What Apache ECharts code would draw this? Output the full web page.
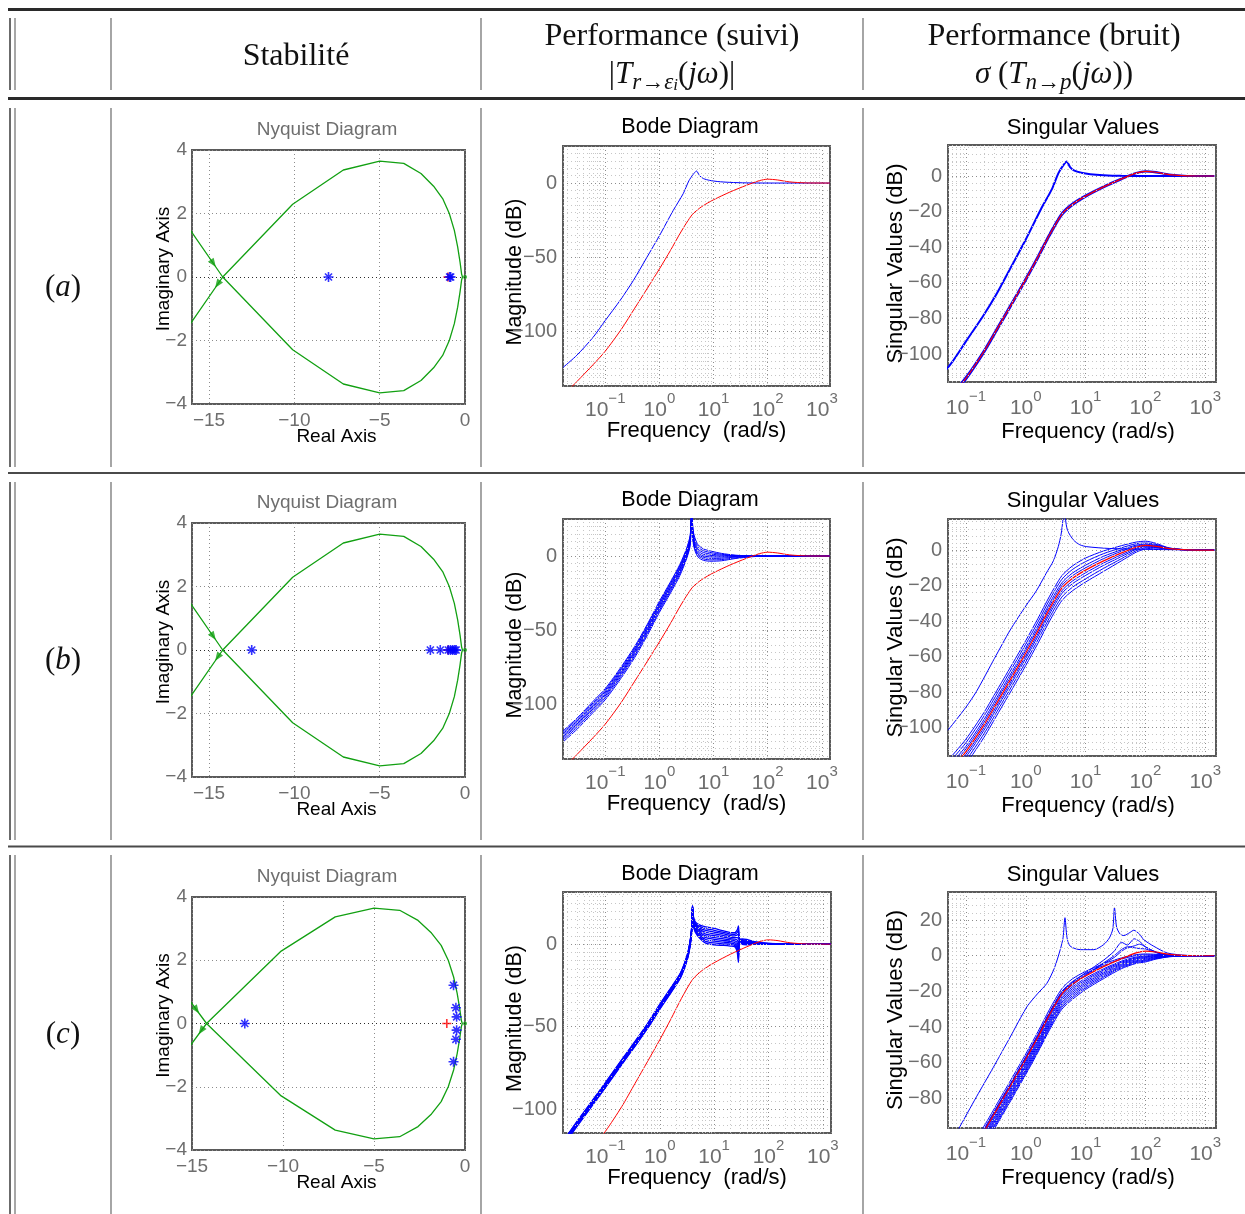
<!DOCTYPE html>
<html>
<head>
<meta charset="utf-8">
<script src="https://cdn.jsdelivr.net/npm/echarts@6/dist/echarts.min.js"></script>
<style>
html,body{margin:0;padding:0;background:#ffffff;}
#chart{width:1245px;height:1214px;}
</style>
</head>
<body>
<div id="chart"></div>
<script>
// ======================= DATA =======================
const ROW_LABELS = ['a', 'b', 'c'];
const HEAD_1 = 'Stabilité';
const HEAD_2 = 'Performance (suivi)';
const HEAD_3 = 'Performance (bruit)';
const TITLE_NYQ = 'Nyquist Diagram';
const TITLE_BODE = 'Bode Diagram';
const TITLE_SV = 'Singular Values';
const NAME_NYQ_X = 'Real Axis';
const NAME_NYQ_Y = 'Imaginary Axis';
const NAME_BODE_X = 'Frequency  (rad/s)';
const NAME_BODE_Y = 'Magnitude (dB)';
const NAME_SV_X = 'Frequency (rad/s)';
const NAME_SV_Y = 'Singular Values (dB)';

// axis ranges
const NYQ_XR = [[-16, 0], [-16, 0], [-15, 0]];
const NYQ_YR = [-4, 4];
const BODE_XR = [0.0166, 1413];
const BODE_YR = [[-137, 25], [-137, 25], [-114.5, 31.6]];
const SV_XR = [0.0501, 1514];
const SV_YR = [[-115.6, 17.4], [-116, 17.5], [-96.5, 35.7]];

// Nyquist loop (real / imaginary parts)
const NYQ_RE = [-18, -14.2, -10.1, -7.13, -5, -3.59, -2.58, -1.84, -1.31, -0.92, -0.625, -0.43, -0.29, -0.2, -0.15, -0.2, -0.29, -0.43, -0.625, -0.92, -1.31, -1.84, -2.58, -3.59, -5, -7.13, -10.1, -14.2, -18];
const NYQ_IM = [2.96, 0, -2.29, -3.37, -3.65, -3.58, -3.26, -2.86, -2.47, -2.0, -1.47, -0.95, -0.47, -0.1, 0, 0.1, 0.47, 0.95, 1.47, 2.0, 2.47, 2.86, 3.26, 3.58, 3.65, 3.37, 2.29, 0, -2.96];
const NYQ_ARROWS = [[-14.75, 0.43], [-14.5, -0.23]];
const NYQ_END = [[0, 0]];
const CRIT_PT = [[-1, 0]];
const EIG_A = [[-8, 0], [-0.9, 0], [-0.84, 0]];
const EIG_B = [[-12.5, 0], [-2.03, 0], [-1.45, 0], [-0.98, 0], [-0.85, 0], [-0.72, 0], [-0.6, 0], [-0.52, 0]];
const EIG_C = [[-12.1, 0], [-0.63, 1.21], [-0.5, 0.5], [-0.46, 0.21], [-0.46, -0.21], [-0.5, -0.5], [-0.63, -1.21]];

// Nominal (red) curve, dB
const RED_W = [0.0166, 0.03, 0.06, 0.1, 0.2, 0.35, 0.6, 1, 1.6, 2.5, 4, 6, 10, 20, 40, 70, 100, 150, 250, 500, 1413];
const RED_DB = [-143.5, -134, -122.5, -113.5, -98.5, -84.5, -71, -58, -45.5, -33, -21.5, -16, -11.3, -6.1, -1.6, 1.6, 2.6, 2.1, 0.8, 0.1, 0];

// Row (a) blue curve
const BA_W = [0.0166, 0.03, 0.06, 0.1, 0.19, 0.33, 0.58, 1, 1.8, 2.75, 3.5, 4.2, 4.85, 5.5, 6.5, 8.5, 12, 20, 40, 100, 1413];
const BA_DB = [-124.5, -116.2, -104, -92.8, -79, -65.8, -50.5, -35.6, -18.5, -7.2, 1.5, 5.8, 8.1, 5.0, 3.0, 1.8, 1.0, 0.45, 0.1, 0, 0];
// Row (a) singular values, blue curves hugging the nominal
const SVA_L1 = [-142.7, -133.2, -121.7, -112.7, -97.7, -83.7, -70.2, -57.2, -44.7, -32.2, -20.8, -15.4, -10.8, -5.7, -1.3, 1.8, 2.8, 2.3, 0.9, 0.1, 0];
const SVA_L2 = [-144.3, -134.8, -123.3, -114.3, -99.3, -85.3, -71.8, -58.8, -46.3, -33.8, -22.2, -16.6, -11.8, -6.5, -1.9, 1.4, 2.4, 1.9, 0.7, 0.1, 0];

// Row (b) Bode blue bundle
const BB_W = [0.0166, 0.03, 0.06, 0.1, 0.2, 0.35, 0.6, 1, 1.6, 2.4, 3.2, 3.7, 3.95, 4.2, 4.6, 5.2, 6.5, 9, 14, 25, 50, 100, 1413];
const BB_1 = [-118, -109.5, -98, -89.5, -74.5, -61, -46, -30.5, -17.5, -5.5, 5.5, 14, 30, 17, 11.5, 7.5, 4.8, 3.3, 1.8, 0.6, 0.1, 0, 0];
const BB_2 = [-119, -110.5, -99, -90.5, -75.5, -62, -47, -31.5, -18.5, -6.5, 4.5, 13, 30, 15.5, 10, 6, 3.6, 2.3, 1.2, 0.4, 0.1, 0, 0];
const BB_3 = [-120, -111.5, -100, -91.5, -76.5, -63, -48, -32.5, -19.5, -7.5, 3.5, 12, 30, 14, 8.5, 4.6, 2.4, 1.3, 0.6, 0.2, 0, 0, 0];
const BB_4 = [-121, -112.5, -101, -92.5, -77.5, -64, -49, -33.5, -20.5, -8.5, 2.5, 11, 30, 13, 7.2, 3.4, 1.2, 0.4, 0, 0, 0, 0, 0];
const BB_5 = [-122, -113.5, -102, -93.5, -78.5, -65, -50, -34.5, -21.5, -9.5, 1.5, 10, 30, 12, 6, 2.2, 0.1, -0.6, -0.7, -0.3, 0, 0, 0];
const BB_6 = [-123, -114.5, -103, -94.5, -79.5, -66, -51, -35.5, -22.5, -10.5, 0.5, 9, 30, 11, 5, 1.2, -0.9, -1.6, -1.5, -0.7, -0.2, 0, 0];
const BB_7 = [-124.2, -115.7, -104.2, -95.7, -80.7, -67.2, -52.2, -36.7, -23.7, -11.7, -0.5, 8, 30, 10, 4, 0.2, -1.9, -2.6, -2.4, -1.2, -0.3, 0, 0];
const BB_8 = [-125.5, -117, -105.5, -97, -82, -68.5, -53.5, -38, -25, -13, -1.5, 7, 30, 9, 3, -0.8, -2.9, -3.5, -3.2, -1.7, -0.5, 0, 0];

// Row (c) Bode blue bundle
const BC_W = [0.0166, 0.03, 0.06, 0.1, 0.2, 0.35, 0.6, 1, 1.6, 2.4, 3.2, 3.6, 3.85, 4.0, 4.15, 4.5, 5.5, 7, 10, 15, 20, 24, 26.5, 28, 29.5, 33, 40, 60, 100, 200, 1413];
const BC_1 = [-119.5, -107.5, -94, -84, -70, -59, -48, -36.5, -26.5, -17.5, -6.5, 1.5, 9.5, 23.3, 17, 13.5, 11.5, 10.5, 9.5, 8, 7, 7, 8.5, 11, 3, 3.2, 2.8, 1.3, 0.5, 0.1, 0];
const BC_2 = [-119.8, -107.8, -94.3, -84.3, -70.3, -59.3, -48.3, -36.8, -26.8, -17.8, -6.8, 1.2, 9.2, 23.2, 16.4, 12.8, 10.6, 9.4, 8.4, 7.1, 6.1, 6, 7, 8.5, 2.6, 2.7, 2.3, 1.1, 0.4, 0.1, 0];
const BC_3 = [-120.2, -108.2, -94.7, -84.7, -70.7, -59.7, -48.7, -37.2, -27.2, -18.2, -7.2, 0.8, 8.8, 23.1, 15.8, 12.1, 9.7, 8.3, 7.3, 6.2, 5.2, 5, 5.5, 6, 2.3, 2.2, 1.8, 0.9, 0.3, 0, 0];
const BC_4 = [-120.5, -108.5, -95, -85, -71, -60, -49, -37.5, -27.5, -18.5, -7.5, 0.5, 8.5, 23, 15.2, 11.4, 8.8, 7.2, 6.2, 5.2, 4.3, 4, 4, 3.5, 2.1, 1.8, 1.4, 0.7, 0.2, 0, 0];
const BC_5 = [-120.8, -108.8, -95.3, -85.3, -71.3, -60.3, -49.3, -37.8, -27.8, -18.8, -7.8, 0.2, 8.2, 22.9, 14.6, 10.7, 7.9, 6.1, 5.1, 4.2, 3.4, 3, 2.5, 1, 2.2, 1.5, 1.1, 0.5, 0.2, 0, 0];
const BC_6 = [-121.2, -109.2, -95.7, -85.7, -71.7, -60.7, -49.7, -38.2, -28.2, -19.2, -8.2, -0.2, 7.8, 22.8, 14, 10, 7, 5, 4, 3.2, 2.5, 2, 1, -1.5, 2.5, 1.2, 0.8, 0.4, 0.1, 0, 0];
const BC_7 = [-121.5, -109.5, -96, -86, -72, -61, -50, -38.5, -28.5, -19.5, -8.5, -0.5, 7.5, 22.7, 13.4, 9.3, 6.1, 3.9, 2.9, 2.2, 1.6, 1, -0.5, -4.5, 3, 0.9, 0.5, 0.3, 0.1, 0, 0];
const BC_8 = [-121.8, -109.8, -96.3, -86.3, -72.3, -61.3, -50.3, -38.8, -28.8, -19.8, -8.8, -0.8, 7.2, 22.6, 12.8, 8.6, 5.2, 2.8, 1.8, 1.2, 0.7, 0, -2, -7, 3.2, 0.6, 0.2, 0.2, 0, 0, 0];
const BC_9 = [-122.2, -110.2, -96.7, -86.7, -72.7, -61.7, -50.7, -39.2, -29.2, -20.2, -9.2, -1.2, 6.8, 22.5, 12.2, 7.9, 4.3, 1.7, 0.7, 0.2, -0.2, -0.8, -3.5, -9, 3, 0.2, -0.1, 0.1, 0, 0, 0];
const BC_10 = [-122.5, -110.5, -97, -87, -73, -62, -51, -39.5, -29.5, -20.5, -9.5, -1.5, 6.5, 22.4, 11.6, 7.2, 3.4, 0.6, -0.4, -0.8, -1.2, -1.6, -4.5, -11, 2.5, -0.2, -0.4, 0, 0, 0, 0];

// Row (b) singular values
const SVB_UP_W = [0.05, 0.1, 0.15, 0.3, 0.55, 1, 1.5, 2.2, 2.9, 3.5, 3.9, 4.2, 4.4, 4.6, 5, 6.3, 8, 10.5, 25, 100, 1413];
const SVB_UP = [-101.5, -88.5, -79.6, -61, -45, -31.5, -23, -13, -6, 2, 9, 18, 30, 18, 11, 5.6, 3, 1.9, 0.9, 0.4, 0];
const SVB_W = [0.05, 0.1, 0.2, 0.35, 0.6, 1, 1.6, 2.5, 4, 6, 10, 20, 40, 70, 100, 150, 250, 500, 1413];
const SVB_1 = [-118.5, -106.5, -91.5, -77.5, -64, -51, -38.5, -26, -14.5, -9, -4.5, -0.5, 2.5, 4.5, 5, 3.8, 1.2, 0.2, 0];
const SVB_2 = [-120.5, -108.5, -93.5, -79.5, -66, -53, -40.5, -28, -16.5, -11, -6.5, -2, 1.3, 3.6, 4, 3.2, 1.1, 0.2, 0];
const SVB_3 = [-122.5, -110.5, -95.5, -81.5, -68, -55, -42.5, -30, -18.5, -13, -8.5, -3.5, 0.2, 2.8, 3.3, 2.7, 1, 0.1, 0];
const SVB_4 = [-124, -112, -97, -83, -69.5, -56.5, -44, -31.5, -20, -14.5, -10, -4.8, -0.6, 2.2, 2.8, 2.4, 0.9, 0.1, 0];
const SVB_5 = [-127, -115, -100, -86, -72.5, -59.5, -47, -34.5, -23, -17.5, -12.8, -7.3, -2.6, 1, 2.2, 1.9, 0.8, 0.1, 0];
const SVB_6 = [-128.5, -116.5, -101.5, -87.5, -74, -61, -48.5, -36, -24.5, -19, -14.3, -8.6, -3.6, 0.4, 1.8, 1.7, 0.7, 0.1, 0];
const SVB_7 = [-130.5, -118.5, -103.5, -89.5, -76, -63, -50.5, -38, -26.5, -21, -16.2, -10.3, -4.8, -0.4, 1.2, 1.4, 0.6, 0.1, 0];
const SVB_8 = [-132.5, -120.5, -105.5, -91.5, -78, -65, -52.5, -40, -28.5, -23, -18, -12, -6, -1.2, 0.6, 1.1, 0.5, 0.1, 0];

// Row (c) singular values
const SVC_UP_W = [0.05, 0.074, 0.15, 0.286, 0.55, 1.04, 1.6, 2.25, 3, 3.77, 4.2, 4.52, 4.9, 5.55, 8.2, 13.7, 20, 25, 28.5, 30.4, 33, 38, 43.6, 55, 64, 80, 93.7, 138, 234, 500, 1413];
const SVC_UP = [-108, -97.5, -79, -62.6, -45.5, -28.7, -21, -15.5, -7, 3.4, 10, 21.3, 10, 5.3, 3.4, 3.4, 6.2, 10, 15, 27, 16, 12, 11.3, 13, 14.3, 12, 9, 5.3, 1.5, 0.2, 0];
const SVC_E_W = [0.1, 0.2, 0.35, 0.6, 1, 1.6, 2.5, 4, 6, 10, 20, 30, 40, 50, 65, 80, 100, 130, 180, 300, 1413];
const SVC_E1 = [-112.5, -97.5, -83.5, -70, -57, -44.5, -32, -20.5, -15, -9.5, -2.5, 2.5, 7.5, 6, 9.5, 8, 5, 3, 1, 0.2, 0];
const SVC_E2 = [-114, -99, -85, -71.5, -58.5, -46, -33.5, -22, -16.5, -11, -4.5, -1, 2.5, 4.5, 5.5, 6.5, 5, 3, 1.2, 0.2, 0];
const SVC_E3 = [-113, -98, -84, -70.5, -57.5, -45, -32.5, -21, -15.5, -10.5, -4, 0, 3.5, 5, 4.5, 4, 3.8, 2.5, 1, 0.2, 0];
const SVC_W = [0.1, 0.2, 0.35, 0.6, 1, 1.6, 2.5, 4, 6, 10, 20, 40, 70, 100, 150, 250, 500, 1413];
const SVC_1 = [-110.5, -95.5, -81.5, -68, -55, -42.5, -30, -18.5, -13, -8.8, -4.5, -1.2, 0.6, 1, 0.8, 0.3, 0, 0];
const SVC_2 = [-112, -97, -83, -69.5, -56.5, -44, -31.5, -20, -14.5, -10, -5.5, -1.9, 0.1, 0.5, 0.5, 0.2, 0, 0];
const SVC_3 = [-115, -100, -86, -72.5, -59.5, -47, -34.5, -23, -17.5, -12.6, -7.3, -3, -0.7, -0.2, 0.1, 0.1, 0, 0];
const SVC_4 = [-116, -101, -87, -73.5, -60.5, -48, -35.5, -24, -18.5, -13.5, -8, -3.6, -1.2, -0.6, -0.1, 0, 0, 0];
const SVC_5 = [-117, -102, -88, -74.5, -61.5, -49, -36.5, -25, -19.5, -14.4, -8.8, -4.2, -1.7, -1, -0.4, -0.1, 0, 0];
const SVC_6 = [-118, -103, -89, -75.5, -62.5, -50, -37.5, -26, -20.5, -15.3, -9.6, -4.8, -2.2, -1.5, -0.7, -0.2, 0, 0];
const SVC_7 = [-119, -104, -90, -76.5, -63.5, -51, -38.5, -27, -21.5, -16.2, -10.4, -5.4, -2.8, -2, -1, -0.3, 0, 0];
const SVC_8 = [-120, -105, -91, -77.5, -64.5, -52, -39.5, -28, -22.5, -17.1, -11.2, -6, -3.3, -2.5, -1.3, -0.4, 0, 0];
const SVC_9 = [-121, -106, -92, -78.5, -65.5, -53, -40.5, -29, -23.5, -18, -12, -6.6, -3.8, -3, -1.6, -0.5, 0, 0];
const SVC_10 = [-122, -107, -93, -79.5, -66.5, -54, -41.5, -30, -24.5, -18.9, -12.8, -7.2, -4.3, -3.5, -1.9, -0.6, -0.1, 0];

// ======================= STYLE / LAYOUT =======================
const SANS = "'Liberation Sans', Arial, Helvetica, sans-serif";
const SERIF = "'Liberation Serif', 'Times New Roman', serif";
const TICK_C = '#6e6e6e';
const BLUE = '#0000ff';
const RED = '#ff0000';
const GREEN = '#12a012';
const MAJOR_C = '#8c8c8c';
const MINOR_C = '#c6c6c6';
const BOX_C = '#5a5a5a';
const ASTER = 'path://M-5,-0.8L5,-0.8L5,0.8L-5,0.8Z M0.8,-5L0.8,5L-0.8,5L-0.8,-5Z M-2.97,-4.1L4.1,2.97L2.97,4.1L-4.1,-2.97Z M-4.1,2.97L2.97,-4.1L4.1,-2.97L-2.97,4.1Z';
const PLUS = 'path://M-5,-0.9L5,-0.9L5,0.9L-5,0.9Z M0.9,-5L0.9,5L-0.9,5L-0.9,-5Z';

// grid boxes [left, top, width, height]: rows a,b,c x cols nyq,bode,sv
const BOXES = [
  [192, 150, 273, 254], [563, 146, 267, 240], [948, 145, 268, 237],
  [192, 523, 273, 254], [563, 519, 267, 240], [948, 519, 268, 237],
  [192, 897, 273, 253], [563, 892, 268, 241], [948, 892, 268, 236]
];
const ROW_DY = [0, 373, 747];
const BODE_LW = [1, 1, 1.3];

const minus = v => (v < 0 ? '\u2212' : '') + Math.abs(v);
const logLabel = v => {
  const e = Math.round(Math.log10(v));
  return '{b|10}{s|' + minus(e) + '}';
};
const pairs = (W, V) => W.map((w, i) => [w, V[i]]);

const grid = BOXES.map(b => ({
  left: b[0], top: b[1], width: b[2], height: b[3],
  show: true, borderColor: BOX_C, borderWidth: 2, backgroundColor: '#ffffff', containLabel: false
}));

const xAxis = [], yAxis = [], series = [];
const majorSplit = {show: true, lineStyle: {color: MAJOR_C, type: [1, 3], width: 1}};
const logRich = {
  b: {fontSize: 21, color: TICK_C, fontFamily: SANS, padding: [9, 0, 0, 0]},
  s: {fontSize: 15, color: TICK_C, fontFamily: SANS, verticalAlign: 'top'}
};

function minorLogX(lo, hi) {
  const out = [];
  for (let k = -3; k <= 4; k++) for (let m = 2; m <= 9; m++) {
    const v = m * Math.pow(10, k);
    if (v > lo && v < hi) out.push(v);
  }
  return out;
}
function minorY(lo, hi, step, major) {
  const out = [];
  for (let v = Math.ceil(lo / step) * step; v < hi; v += step) {
    if (v > lo && Math.abs(v % major) > 1e-9) out.push(v);
  }
  return out;
}
function gridLines(gi, xs, ys, color, extra) {
  return {
    type: 'line', xAxisIndex: gi, yAxisIndex: gi, data: [], symbol: 'none', silent: true, z: 1,
    markLine: {
      silent: true, symbol: ['none', 'none'], animation: false, label: {show: false},
      lineStyle: {color: color, type: [1, 3], width: 1},
      data: xs.map(v => ({xAxis: v})).concat(ys.map(v => ({yAxis: v}))).concat(extra || [])
    }
  };
}
function curve(gi, W, V, color, width, z) {
  return {
    type: 'line', xAxisIndex: gi, yAxisIndex: gi, data: pairs(W, V), showSymbol: false, symbol: 'none',
    smooth: 0.25, clip: true, silent: true, z: z || 3,
    lineStyle: {color: color, width: width}, itemStyle: {color: color}
  };
}

const EIGS = [EIG_A, EIG_B, EIG_C];
const BODE_BLUE = [[BA_DB], [BB_1, BB_2, BB_3, BB_4, BB_5, BB_6, BB_7, BB_8], [BC_1, BC_2, BC_3, BC_4, BC_5, BC_6, BC_7, BC_8, BC_9, BC_10]];
const BODE_W = [BA_W, BB_W, BC_W];

for (let r = 0; r < 3; r++) {
  // ---------- Nyquist ----------
  const gN = r * 3;
  const nx = {
    gridIndex: gN, type: 'value', min: NYQ_XR[r][0], max: NYQ_XR[r][1],
    axisLine: {show: false}, axisTick: {show: false}, splitLine: majorSplit,
    axisLabel: {color: TICK_C, fontSize: 19, fontFamily: SANS, margin: 7, formatter: minus, showMinLabel: r === 2},
    name: NAME_NYQ_X, nameLocation: 'middle', nameGap: 23, nameMoveOverlap: false,
    nameTextStyle: {color: '#000', fontSize: 19, fontFamily: SANS, padding: [0, 0, 0, 16]}
  };
  if (r === 2) nx.interval = 5; else nx.splitNumber = 4;
  xAxis.push(nx);
  yAxis.push({
    gridIndex: gN, type: 'value', min: NYQ_YR[0], max: NYQ_YR[1], interval: 2,
    axisLine: {show: false}, axisTick: {show: false}, splitLine: majorSplit,
    axisLabel: {color: TICK_C, fontSize: 19, fontFamily: SANS, margin: 5, formatter: minus},
    name: NAME_NYQ_Y, nameLocation: 'middle', nameGap: 19, nameMoveOverlap: false,
    nameTextStyle: {color: '#000', fontSize: 19, fontFamily: SANS, padding: [0, 0, 0, 16]}
  });
  series.push(gridLines(gN, [], [], '#333', [{yAxis: 0, lineStyle: {color: '#2a2a2a', type: [1, 3], width: 1}}]));
  series.push({
    type: 'line', xAxisIndex: gN, yAxisIndex: gN, data: pairs(NYQ_RE, NYQ_IM), showSymbol: false, symbol: 'none',
    clip: true, silent: true, z: 3, lineStyle: {color: GREEN, width: 1.3}
  });
  series.push({
    type: 'scatter', xAxisIndex: gN, yAxisIndex: gN, silent: true, z: 4,
    data: NYQ_ARROWS.map((p, i) => ({value: p, symbolRotate: i === 0 ? -145 : 145})),
    symbol: 'triangle', symbolSize: [7, 9], itemStyle: {color: GREEN}
  });
  series.push({
    type: 'scatter', xAxisIndex: gN, yAxisIndex: gN, silent: true, z: 4, data: NYQ_END,
    symbol: 'circle', symbolSize: 4, itemStyle: {color: GREEN}
  });
  series.push({
    type: 'scatter', xAxisIndex: gN, yAxisIndex: gN, silent: true, z: 5, data: CRIT_PT,
    symbol: PLUS, symbolSize: 9, itemStyle: {color: RED}
  });
  series.push({
    type: 'scatter', xAxisIndex: gN, yAxisIndex: gN, silent: true, z: 6, data: EIGS[r],
    symbol: ASTER, symbolSize: 10, itemStyle: {color: BLUE}
  });

  // ---------- Bode ----------
  const gB = r * 3 + 1;
  const byr = BODE_YR[r];
  xAxis.push({
    gridIndex: gB, type: 'log', logBase: 10, min: BODE_XR[0], max: BODE_XR[1],
    axisLine: {show: false}, axisTick: {show: false}, splitLine: majorSplit,
    axisLabel: {formatter: logLabel, margin: 5, interval: 0, showMinLabel: false, showMaxLabel: false, rich: logRich},
    name: NAME_BODE_X, nameLocation: 'middle', nameGap: 34, nameMoveOverlap: false,
    nameTextStyle: {color: '#000', fontSize: 22, fontFamily: SANS}
  });
  yAxis.push({
    gridIndex: gB, type: 'value', min: byr[0], max: byr[1], splitNumber: 3,
    axisLine: {show: false}, axisTick: {show: false}, splitLine: majorSplit,
    axisLabel: {color: TICK_C, fontSize: 20, fontFamily: SANS, margin: 6, formatter: minus, showMinLabel: false, showMaxLabel: false},
    name: NAME_BODE_Y, nameLocation: 'middle', nameGap: 37, nameMoveOverlap: false,
    nameTextStyle: {color: '#000', fontSize: 21.5, fontFamily: SANS, padding: [0, 12, 0, 0]}
  });
  series.push(gridLines(gB, minorLogX(BODE_XR[0], BODE_XR[1]), minorY(byr[0], byr[1], 5, 50), MINOR_C));
  BODE_BLUE[r].forEach(V => series.push(curve(gB, BODE_W[r], V, BLUE, BODE_LW[r], 3)));
  series.push(curve(gB, RED_W, RED_DB, RED, 1, 4));

  // ---------- Singular values ----------
  const gS = r * 3 + 2;
  const syr = SV_YR[r];
  xAxis.push({
    gridIndex: gS, type: 'log', logBase: 10, min: SV_XR[0], max: SV_XR[1],
    axisLine: {show: false}, axisTick: {show: false}, splitLine: majorSplit,
    axisLabel: {formatter: logLabel, margin: 7, interval: 0, showMinLabel: false, showMaxLabel: false, rich: logRich},
    name: NAME_SV_X, nameLocation: 'middle', nameGap: 39, nameMoveOverlap: false,
    nameTextStyle: {color: '#000', fontSize: 22, fontFamily: SANS, padding: [0, 0, 0, 12]}
  });
  yAxis.push({
    gridIndex: gS, type: 'value', min: syr[0], max: syr[1], splitNumber: 7,
    axisLine: {show: false}, axisTick: {show: false}, splitLine: majorSplit,
    axisLabel: {color: TICK_C, fontSize: 20, fontFamily: SANS, margin: 6, formatter: minus, showMinLabel: false, showMaxLabel: false},
    name: NAME_SV_Y, nameLocation: 'middle', nameGap: 41, nameMoveOverlap: false,
    nameTextStyle: {color: '#000', fontSize: 22, fontFamily: SANS}
  });
  series.push(gridLines(gS, minorLogX(SV_XR[0], SV_XR[1]), minorY(syr[0], syr[1], 4, 20), MINOR_C));
  if (r === 0) {
    series.push(curve(gS, RED_W, SVA_L1, BLUE, 1.6, 3));
    series.push(curve(gS, RED_W, SVA_L2, BLUE, 1.6, 3));
    series.push(curve(gS, BA_W, BA_DB, BLUE, 2, 3));
    series.push(curve(gS, RED_W, RED_DB, RED, 1.2, 4));
  } else if (r === 1) {
    [SVB_1, SVB_2, SVB_3, SVB_4, SVB_5, SVB_6, SVB_7, SVB_8].forEach(V => series.push(curve(gS, SVB_W, V, BLUE, 1, 3)));
    series.push(curve(gS, SVB_UP_W, SVB_UP, BLUE, 1, 3));
    series.push(curve(gS, RED_W, RED_DB, RED, 1.2, 4));
  } else {
    [SVC_1, SVC_2, SVC_3, SVC_4, SVC_5, SVC_6, SVC_7, SVC_8, SVC_9, SVC_10].forEach(V => series.push(curve(gS, SVC_W, V, BLUE, 1, 3)));
    [SVC_E1, SVC_E2, SVC_E3].forEach(V => series.push(curve(gS, SVC_E_W, V, BLUE, 1, 3)));
    series.push(curve(gS, SVC_UP_W, SVC_UP, BLUE, 1, 3));
    series.push(curve(gS, RED_W, RED_DB, RED, 1.2, 4));
  }
}

// ======================= TABLE GRAPHICS =======================
const graphic = [];
function hl(y, w, c) { graphic.push({type: 'line', silent: true, z: 10, shape: {x1: 8, y1: y, x2: 1245, y2: y}, style: {stroke: c, lineWidth: w}}); }
function vl(x, y1, y2, w, c) { graphic.push({type: 'line', silent: true, z: 10, shape: {x1: x, y1: y1, x2: x, y2: y2}, style: {stroke: c, lineWidth: w}}); }
function txt(x, y, text, opts) {
  graphic.push({type: 'text', silent: true, z: 10, x: x, y: y, style: Object.assign({
    text: text, align: 'center', verticalAlign: 'middle', textAlign: 'center', textVerticalAlign: 'middle'
  }, opts)});
}
hl(9.5, 3, '#2a2a2a');
hl(98.5, 3, '#2a2a2a');
hl(473, 2, '#4a4a4a');
hl(846.5, 2, '#4a4a4a');
const VSPANS = [[18, 90], [108, 467], [482, 840], [855, 1214]];
VSPANS.forEach(s => {
  vl(10, s[0], s[1], 1.5, '#3a3a3a');
  vl(15, s[0], s[1], 1.5, '#8a8a8a');
  vl(111, s[0], s[1], 1.2, '#6a6a6a');
  vl(481, s[0], s[1], 1.2, '#6a6a6a');
  vl(863, s[0], s[1], 1.2, '#6a6a6a');
});

const HDR_RICH = {
  n: {fontFamily: SERIF, fontSize: 31, fill: '#111', color: '#111', verticalAlign: 'top'},
  i: {fontFamily: SERIF, fontSize: 31, fontStyle: 'italic', fill: '#111', color: '#111', verticalAlign: 'top'},
  s: {fontFamily: SERIF, fontSize: 23, fontStyle: 'italic', fill: '#111', color: '#111', verticalAlign: 'bottom', padding: [12, 0, 0, 0]},
  sn: {fontFamily: SERIF, fontSize: 23, fill: '#111', color: '#111', verticalAlign: 'bottom', padding: [12, 0, 0, 0]},
  ss: {fontFamily: SERIF, fontSize: 17, fontStyle: 'italic', fill: '#111', color: '#111', verticalAlign: 'bottom', padding: [14, 0, 0, 0]}
};
const hdrFont = {fontFamily: SERIF, fontSize: 32, fill: '#111'};
txt(296, 57, HEAD_1, hdrFont);
txt(672, 37, HEAD_2, hdrFont);
txt(1054, 37, HEAD_3, hdrFont);
txt(672, 77, '{n||}{i|T}{s|r}{sn|\u2192}{s|\u03b5}{ss|i}{n|(}{i|j\u03c9}{n|)|}', Object.assign({rich: HDR_RICH}, hdrFont));
txt(1054, 77, '{i|\u03c3}{n| (}{i|T}{s|n}{sn|\u2192}{s|p}{n|(}{i|j\u03c9}{n|))}', Object.assign({rich: HDR_RICH}, hdrFont));
const ROW_Y = [288, 661, 1035];
ROW_LABELS.forEach((l, r) => txt(63, ROW_Y[r], '{n|(}{i|' + l + '}{n|)}', Object.assign({rich: HDR_RICH}, hdrFont)));

ROW_DY.forEach(dy => {
  txt(327, 130 + dy, TITLE_NYQ, {fontFamily: SANS, fontSize: 19, fill: TICK_C});
  txt(690, 127 + dy, TITLE_BODE, {fontFamily: SANS, fontSize: 21.5, fill: '#000'});
  txt(1083, 128 + dy, TITLE_SV, {fontFamily: SANS, fontSize: 22, fill: '#000'});
});

const chart = echarts.init(document.getElementById('chart'), null, {renderer: 'canvas'});
chart.setOption({
  backgroundColor: '#ffffff',
  animation: false,
  grid: grid,
  xAxis: xAxis,
  yAxis: yAxis,
  series: series,
  graphic: graphic
});
</script>
</body>
</html>
